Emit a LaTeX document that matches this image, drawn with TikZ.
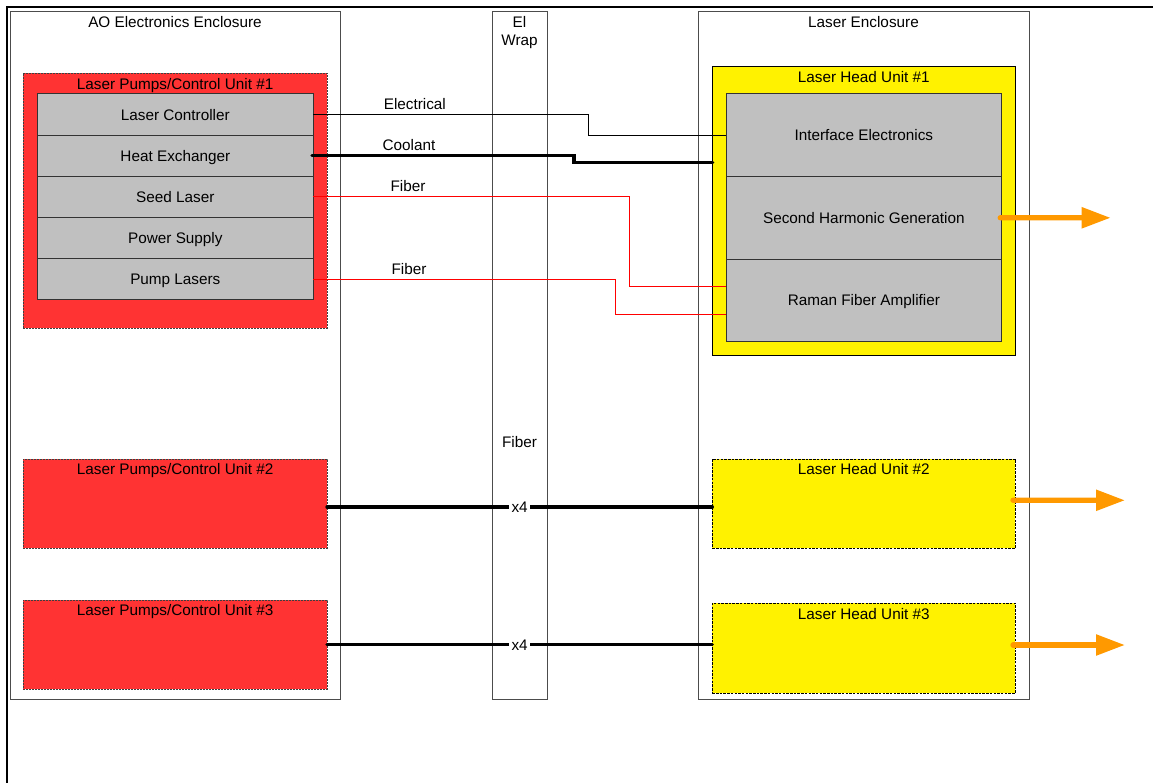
\documentclass[tikz,border=0pt]{standalone}
\usepackage{fontspec}
\setmainfont{Liberation Sans}
\usetikzlibrary{arrows.meta}
\begin{document}
\begin{tikzpicture}[x=1pt,y=-1pt,
  every node/.style={font=\fontsize{15.3}{18}\selectfont, inner sep=0pt, outer sep=0pt, text height=10.9pt, text depth=0pt},
  encl/.style={draw=black!70, line width=1pt, fill=white, anchor=north west},
  pcu/.style={draw=black!75, fill=pcured, line width=0.7pt, dash pattern=on 2pt off 1pt, anchor=north west, minimum width=303.7pt},
  lhu/.style={draw=black, fill=yellow, line width=0.8pt, anchor=north west, minimum width=303pt},
  lhudash/.style={lhu, dash pattern=on 2.5pt off 1.2pt},
  rowbox/.style={draw=black!80, fill=boxgray, line width=1pt, anchor=north west},
  elec/.style={draw=black, line width=0.9pt},
  cool/.style={draw=black, line width=3.3pt, line cap=round},
  fib/.style={draw=red, line width=1pt},
  beam/.style={draw=beamorange, line width=5.3pt, line cap=round, -{Triangle[length=29pt,width=20pt]}},
  lbl/.style={anchor=base, yshift=5pt},
  mult/.style={fill=white, inner xsep=2.5pt, inner ysep=2pt}
]
\definecolor{pcured}{RGB}{255,51,51}
\definecolor{boxgray}{RGB}{192,192,192}
\definecolor{beamorange}{RGB}{255,153,0}
\useasboundingbox (0,0) rectangle (1153,783);

% outer frame
\draw[line width=2.5pt] (1153,7) -- (7,7) -- (7,783);

% enclosures
\node[encl, minimum width=330pt, minimum height=687pt] (ao) at (10,12) {};
\node[encl, minimum width=55pt, minimum height=687pt] (ei) at (492,12) {};
\node[encl, minimum width=331pt, minimum height=687pt] (le) at (698,12) {};
\node (aot) at ([yshift=-10pt]ao.north) {AO Electronics Enclosure};
\node[align=center, text height=28.9pt] (eit) at (519.5,31) {El\\Wrap};
\node (let) at ([yshift=-10pt]le.north) {Laser Enclosure};
\node (eif) at (519.5,441.7) {Fiber};

% laser pumps / control units
\node[pcu, minimum height=255.3pt] (pc1) at (23.3,73) {};
\node (pc1t) at ([yshift=-11pt]pc1.north) {Laser Pumps/Control Unit \#1};
\node[pcu, minimum height=89.3pt] (pc2) at (23.3,459) {};
\node (pc2t) at ([yshift=-10pt]pc2.north) {Laser Pumps/Control Unit \#2};
\node[pcu, minimum height=89.3pt] (pc3) at (23.3,600) {};
\node (pc3t) at ([yshift=-10pt]pc3.north) {Laser Pumps/Control Unit \#3};

\node[rowbox, minimum width=275.3pt, minimum height=41.2pt] (lc) at (37.7,94) {Laser Controller};
\node[rowbox, minimum width=275.3pt, minimum height=41.2pt] (he) at (37.7,135.2) {Heat Exchanger};
\node[rowbox, minimum width=275.3pt, minimum height=41.2pt] (sl) at (37.7,176.4) {Seed Laser};
\node[rowbox, minimum width=275.3pt, minimum height=41.2pt] (ps) at (37.7,217.6) {Power Supply};
\node[rowbox, minimum width=275.3pt, minimum height=41.2pt] (pl) at (37.7,258.8) {Pump Lasers};

% laser head units
\node[lhu, minimum height=288.3pt] (lh1) at (712.3,66.7) {};
\node (lh1t) at ([yshift=-10pt]lh1.north) {Laser Head Unit \#1};
\node[lhudash, minimum height=89.3pt] (lh2) at (712.3,459) {};
\node (lh2t) at ([yshift=-10pt]lh2.north) {Laser Head Unit \#2};
\node[lhudash, minimum height=90pt] (lh3) at (712.3,603.3) {};
\node (lh3t) at ([yshift=-10.7pt]lh3.north) {Laser Head Unit \#3};

\node[rowbox, minimum width=275.7pt, minimum height=82.7pt] (ie) at (726,93.7) {Interface Electronics};
\node[rowbox, minimum width=275.7pt, minimum height=82.7pt] (shg) at (726,176.4) {Second Harmonic Generation};
\node[rowbox, minimum width=275.7pt, minimum height=82.7pt] (rfa) at (726,259.1) {Raman Fiber Amplifier};

% connectors unit #1
\draw[elec] (lc.east) -- node[lbl, pos=0.37] {Electrical} ++(275.3,0) |- (ie.west);
\coordinate (coolend) at (712.7,162.7);
\draw[cool] ([xshift=-1pt]he.east) -- node[lbl, pos=0.37] {Coolant} ++(262,0) |- (coolend);
\draw[fib] (sl.east) -- node[lbl, pos=0.30] {Fiber} ++(316.7,0) |- ([yshift=13.7pt]rfa.west);
\draw[fib] (pl.east) -- node[lbl, pos=0.317] {Fiber} ++(302.7,0) |- ([yshift=-13.9pt]rfa.west);

% connectors units #2, #3
\draw[cool] ([yshift=-3.3pt]pc2.east) -- node[mult] {x4} ([yshift=-3.3pt]pc2.east -| lh2.west);
\draw[cool] (pc3.east) -- node[mult] {x4} (pc3.east -| lh3.west);

% output beams
\coordinate (b1) at (1110.7,217.8);
\coordinate (b2) at (1125,500.3);
\coordinate (b3) at (1125,645);
\draw[beam] ([xshift=-1.5pt]shg.east) -- (b1);
\draw[beam] ([yshift=3.4pt,xshift=-2.3pt]lh2.east) -- (b2);
\draw[beam] ([yshift=3.3pt,xshift=-2.3pt]lh3.east) -- (b3);
\end{tikzpicture}
\end{document}
